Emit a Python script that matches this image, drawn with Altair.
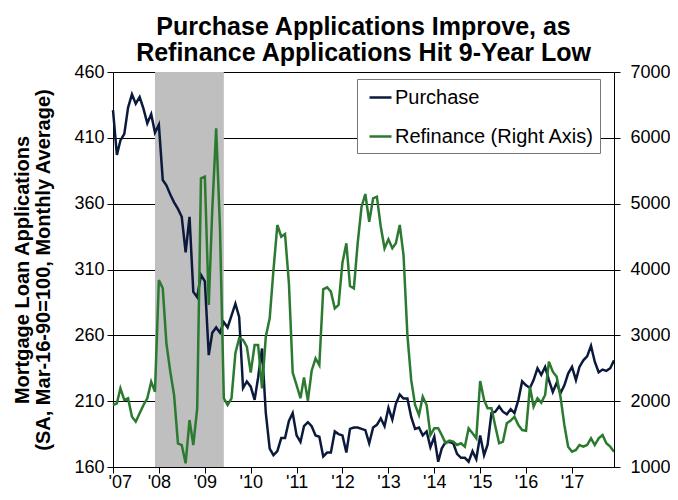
import altair as alt
import pandas as pd

# Monthly dates Jan 2007 - Dec 2017
years = list(range(2007, 2018))
dates = [f"{y}-{m:02d}-01" for y in years for m in range(1, 13)]

purchase = [
    431, 397, 408, 413, 433, 443, 436, 441, 432, 421, 428, 414,   # 2007
    420, 378, 374, 367, 361, 356, 350, 323, 350, 293, 289, 306,   # 2008
    301, 245, 262, 266, 262, 270, 266, 275, 284, 274, 220, 225,   # 2009
    221, 211, 228, 250, 201, 174, 169, 172, 182, 182, 195, 201,   # 2010
    184, 179, 191, 194, 191, 184, 183, 168, 171, 171, 187, 185,   # 2011
    184, 171, 189, 190, 190, 189, 188, 178, 190, 192, 197, 191,   # 2012
    205, 196, 208, 215, 212, 212, 198, 189, 190, 184, 187, 175,   # 2013
    183, 164, 174, 179, 179, 178, 170, 167, 167, 164, 172, 166,   # 2014
    184, 169, 177, 201, 202, 206, 202, 200, 204, 201, 211, 225,   # 2015
    222, 220, 226, 235, 230, 236, 226, 217, 224, 216, 222, 231,   # 2016
    236, 226, 236, 241, 244, 252, 240, 232, 234, 233, 235, 241,   # 2017
]

refinance = [
    1942, 1967, 2195, 2018, 2044, 1764, 1688, 1815, 1942, 2044, 2296, 2144,  # 2007
    3840, 3714, 2879, 2447, 2094, 1360, 1334, 1056, 1714, 1334, 1891, 5385,  # 2008
    5410, 3461, 4904, 6145, 4650, 2044, 1942, 2044, 2727, 2955, 2929, 2828,  # 2009
    2434, 2853, 2853, 2195, 2980, 3259, 3992, 4676, 4498, 4539, 3790, 2434,  # 2010
    2245, 2044, 2362, 2007, 2463, 2651, 2549, 3699, 3730, 3663, 3410, 3461,  # 2011
    4103, 4398, 3749, 3714, 4398, 4954, 5147, 4726, 5082, 5106, 4650, 4322,  # 2012
    4459, 4322, 4398, 4676, 4220, 3000, 2322, 1942, 1790, 2068, 1942, 1486,  # 2013
    1588, 1588, 1486, 1360, 1400, 1385, 1334, 1360, 1309, 1588, 1512, 1436,  # 2014
    2306, 2018, 1891, 1891, 1623, 1360, 1385, 1664, 1704, 1764, 1638, 1562,  # 2015
    1551, 2220, 1916, 2044, 1977, 2094, 2600, 2447, 2372, 2068, 1638, 1309,  # 2016
    1233, 1258, 1334, 1309, 1334, 1436, 1334, 1436, 1486, 1360, 1309, 1233,  # 2017
]

series_names = ["Purchase", "Refinance (Right Axis)"]
series_colors = ["#0B1A3C", "#2B7A30"]

recession_start = ["2007-12-01"]
recession_end = ["2009-06-01"]

left_ticks = [160, 210, 260, 310, 360, 410, 460]
right_ticks = [1000, 2000, 3000, 4000, 5000, 6000, 7000]

FONT = "Liberation Sans"

long_df = pd.DataFrame({
    "date": dates * 2,
    "series": [series_names[0]] * len(dates) + [series_names[1]] * len(dates),
    "value": purchase + refinance,
})
rec_df = pd.DataFrame({"start": recession_start, "end": recession_end})

x_scale = alt.Scale(
    type="utc",
    domain=[alt.DateTime(year=2007, month=1, date=1, utc=True),
            alt.DateTime(year=2017, month=12, date=1, utc=True)],
)
x_axis = alt.Axis(
    values=[alt.DateTime(year=y, month=1, date=1, utc=True) for y in years],
    labelExpr="\"'\" + utcFormat(datum.value, '%y')",
    title=None, grid=False, tickSize=6, labelPadding=0,
    labelFontSize=18, labelFlush=True, labelFlushOffset=5,
    domainColor="black", tickColor="black", labelColor="black", zindex=1,
)

color = alt.Color(
    "series:N",
    scale=alt.Scale(domain=series_names, range=series_colors),
    legend=alt.Legend(
        title=None, orient="none", legendX=244, legendY=7, direction="vertical",
        symbolType="stroke", symbolSize=484, symbolStrokeWidth=2.5,
        labelFontSize=20, labelFont=FONT, labelColor="black", labelOffset=2,
        labelLimit=400,
        padding=6, symbolOffset=5, rowPadding=16,
        strokeColor="#777777", fillColor="white",
    ),
)

rect = alt.Chart(rec_df).mark_rect(color="#BFBFBF").encode(
    x=alt.X("start:T", scale=x_scale, axis=x_axis),
    x2="end:T",
)

purchase_line = alt.Chart(long_df).transform_filter(
    alt.datum.series == series_names[0]
).mark_line(strokeWidth=2.5).encode(
    x=alt.X("date:T", scale=x_scale, axis=x_axis),
    y=alt.Y(
        "value:Q",
        scale=alt.Scale(domain=[160, 460], nice=False, zero=False),
        axis=alt.Axis(
            orient="left", values=left_ticks, format="d",
            title=["Mortgage Loan Applications", "(SA, Mar-16-90=100, Monthly Average)"],
            titleFontSize=20, titleFontWeight="bold", titleFont=FONT, titleColor="black",
            titleLineHeight=21, titlePadding=20,
            grid=True, gridColor="black", gridWidth=1,
            domainColor="black", tickColor="black", tickSize=6,
            labelFontSize=18, labelPadding=3, labelColor="black",
        ),
    ),
    color=color,
)

refi_line = alt.Chart(long_df).transform_filter(
    alt.datum.series == series_names[1]
).mark_line(strokeWidth=2.5).encode(
    x=alt.X("date:T", scale=x_scale, axis=x_axis),
    y=alt.Y(
        "value:Q",
        scale=alt.Scale(domain=[1000, 7000], nice=False, zero=False),
        axis=alt.Axis(
            orient="right", values=right_ticks, format="d", title=None, grid=False,
            domainColor="black", tickColor="black", tickSize=6,
            labelFontSize=18, labelPadding=10, labelColor="black", zindex=1,
        ),
    ),
    color=color,
)

chart = alt.layer(
    alt.layer(rect, purchase_line), refi_line
).resolve_scale(y="independent").properties(
    width=501, height=395,
    autosize=alt.AutoSizeParams(type="none"),
    padding={"left": 105, "top": 64, "right": 56, "bottom": 25},
    title=alt.TitleParams(
        text=["Purchase Applications Improve, as", "Refinance Applications Hit 9-Year Low"],
        fontSize=25, font=FONT, fontWeight="bold", color="black",
        anchor="middle", lineHeight=26, offset=-3,
    ),
).configure_view(stroke=None).configure_axis(
    labelFont=FONT, titleFont=FONT,
)

chart.save("out.html", embed_options={"renderer": "svg", "actions": False})
